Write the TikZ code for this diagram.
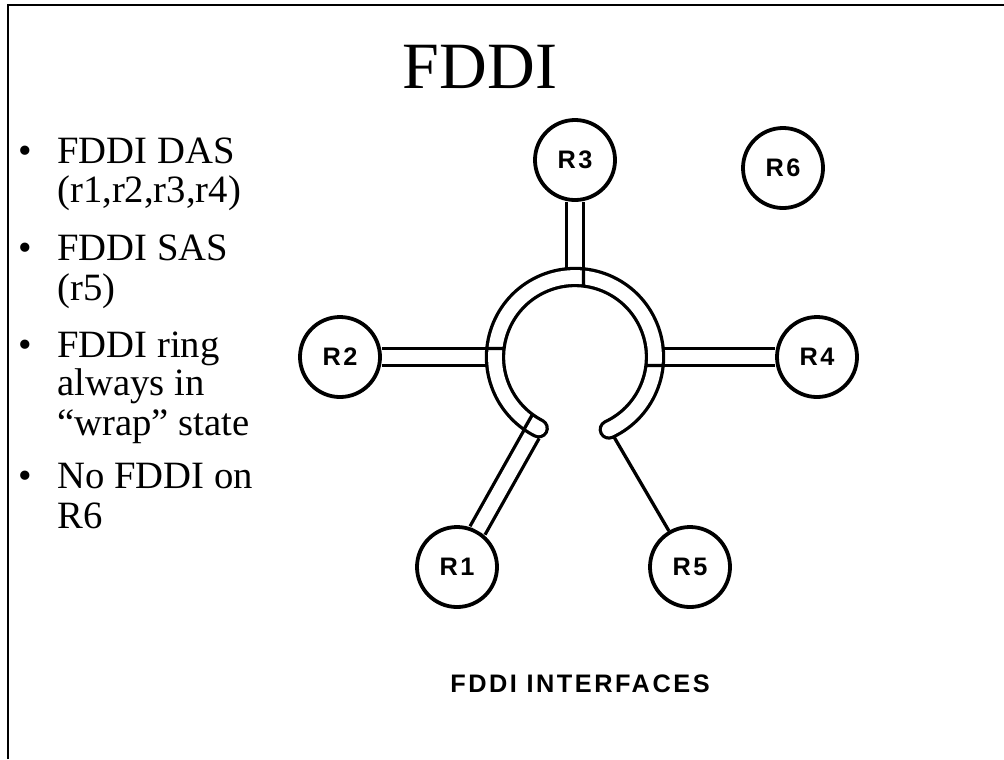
\documentclass[tikz,border=0pt]{standalone}
\usepackage{fontspec}
\setmainfont{Liberation Serif}
\newfontfamily\arialfont{Liberation Sans}[LetterSpace=10]
\usetikzlibrary{calc}

\begin{document}
\begin{tikzpicture}[x=0.025cm, y=0.025cm,
    router/.style={circle, draw, line width=2.7pt, minimum size=2cm, inner sep=0pt,
      font=\arialfont\bfseries\fontsize{18}{20}\selectfont},
    enlace/.style={double, double distance=9.8pt, line width=2.35pt},
    hilo/.style={line width=2.35pt},
    renglon/.style={anchor=base west, inner sep=0pt, font=\fontsize{27.5}{30}\selectfont}]
    \useasboundingbox (0,0) rectangle (1004,-759);

    % Marco
    \draw[line width=1.1pt] (8,-759) -- (8,-5) -- (1004,-5);

    % Titulo
    \node[font=\fontsize{47}{50}\selectfont, anchor=base] (titulo) at (480,-88) {FDDI};

    % Viñetas
    \foreach \y/\n in {163/a, 260/b, 357/c, 488/d}
        \node[renglon] (vin\n) at (18,-\y) {\textbullet};
    \node[renglon] (l1) at (57,-163) {FDDI DAS};
    \node[renglon] (l2) at (57,-202) {(r1,r2,r3,r4)};
    \node[renglon] (l3) at (57,-260) {FDDI SAS};
    \node[renglon] (l4) at (57,-300) {(r5)};
    \node[renglon] (l5) at (57,-357) {FDDI ring};
    \node[renglon] (l6) at (57,-395) {always in};
    \node[renglon] (l7) at (57,-435) {“wrap” state};
    \node[renglon] (l8) at (57,-488) {No FDDI on};
    \node[renglon] (l9) at (57,-528) {R6};

    % Routers
    \node[router] (R3) at (575,-160) {R3};
    \node[router] (R6) at (783,-168) {R6};
    \node[router] (R2) at (340,-357) {R2};
    \node[router] (R4) at (817,-357) {R4};
    \node[router] (R1) at (457,-567) {R1};
    \node[router] (R5) at (690,-567) {R5};
    \node[circle, minimum size=4.425cm, inner sep=0pt, outer sep=0pt] (anillo) at (575,-357) {};

    % Enlaces DAS y SAS
    \draw[enlace] (R3) -- (anillo);
    \draw[enlace] (R2) -- (anillo);
    \draw[enlace] (R4) -- (anillo);
    \draw[enlace] (R1) -- (anillo);
    \coordinate (fin5) at ($(anillo.center)+(-64:89)$);
    \draw[hilo] (fin5) -- (R5);

    % Anillo en wrap
    \draw[enlace, line cap=round] ($(anillo.center)+(-65:80)$) arc[start angle=-65, end angle=243, radius=80];
    \foreach \a in {90, 180, 0, 240.3}
        \draw[hilo] ($(anillo.center)+({\a-5.5}:88.5)$) -- ($(anillo.center)+({\a-6.8}:71.5)$);

    % Pie
    \node[font=\arialfont\bfseries\fontsize{18}{20}\selectfont, anchor=base] (pie) at (580,-692) {FDDI INTERFACES};
\end{tikzpicture}
\end{document}
